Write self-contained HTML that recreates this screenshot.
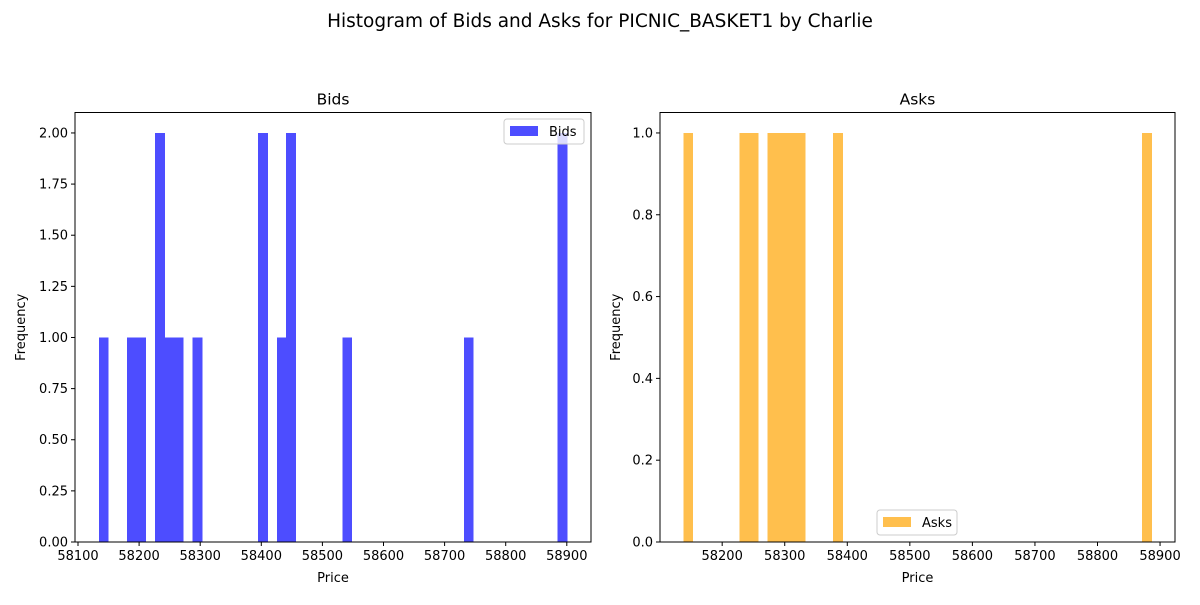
<!DOCTYPE html>
<html><head><meta charset="utf-8"><style>
body{margin:0;background:#fff;font-family:"Liberation Sans","DejaVu Sans",sans-serif;}
svg text{font-family:"DejaVu Sans","Liberation Sans",sans-serif;}
</style></head><body>
<svg id="fig" width="1200" height="600" xmlns="http://www.w3.org/2000/svg">
<rect width="1200" height="600" fill="#fff"/>
<text x="600" y="27" font-size="18.5" text-anchor="middle">Histogram of Bids and Asks for PICNIC_BASKET1 by Charlie</text>
<g id="left"></g>
<g id="right"></g>
</svg>
<script>
// Bids histogram: 50 bins
const bidsBinStart = 58134.4;
const bidsBinWidth = 15.32;
const bidsCounts = [1,0,0,1,1,0,2,1,1,0,1,0,0,0,0,0,0,2,0,1,2,0,0,0,0,0,1,0,0,0,0,0,0,0,0,0,0,0,0,1,0,0,0,0,0,0,0,0,0,2];
const bidsYTicks = [0,0.25,0.5,0.75,1.0,1.25,1.5,1.75,2.0];
const bidsXTicks = [58100,58200,58300,58400,58500,58600,58700,58800,58900];
// Asks histogram: 50 bins
const asksBinStart = 58138;
const asksBinWidth = 14.97;
const asksCounts = [1,0,0,0,0,0,1,1,0,1,1,1,1,0,0,0,1,0,0,0,0,0,0,0,0,0,0,0,0,0,0,0,0,0,0,0,0,0,0,0,0,0,0,0,0,0,0,0,0,1];
const asksYTicks = [0,0.2,0.4,0.6,0.8,1.0];
const asksXTicks = [58200,58300,58400,58500,58600,58700,58800,58900];

const NS="http://www.w3.org/2000/svg";
function mk(parent,tag,attrs,txt){const e=document.createElementNS(NS,tag);for(const k in attrs)e.setAttribute(k,attrs[k]);if(txt!==undefined)e.textContent=txt;parent.appendChild(e);return e;}

function panel(g,cfg){
  const {L,R,T,B,xmin,xmax,ymax,binStart,binWidth,counts,xticks,yticks,ydec,color,title,legend,lx,ly}=cfg;
  const sx=v=>L+(v-xmin)/(xmax-xmin)*(R-L);
  const sy=v=>B-v/ymax*(B-T);
  counts.forEach((c,i)=>{
    if(c<=0)return;
    const x0=sx(binStart+i*binWidth),x1=sx(binStart+(i+1)*binWidth);
    const r=mk(g,'rect',{x:x0,y:sy(c),width:x1-x0+0.3,height:B-sy(c),fill:color,'shape-rendering':'crispEdges'});
    
    
  });
  const fr=mk(g,'rect',{x:L,y:T,width:R-L,height:B-T,fill:'none',stroke:'#000','stroke-width':1});
  
  
  xticks.forEach(v=>{
    const x=sx(v);
    mk(g,'line',{x1:x,x2:x,y1:B,y2:B+4,stroke:'#000'});
    const t=mk(g,'text',{x:x,y:B+18,'font-size':13,'text-anchor':'middle'},String(v));
    
    
  });
  yticks.forEach(v=>{
    const y=sy(v);
    mk(g,'line',{x1:L-4,x2:L,y1:y,y2:y,stroke:'#000'});
    const t=mk(g,'text',{x:L-7,y:y+4.5,'font-size':13,'text-anchor':'end'},v.toFixed(ydec));
    
    
  });
  const tt=mk(g,'text',{x:(L+R)/2,y:T-8,'font-size':15.5,'text-anchor':'middle'},title);
  
  
  const xl=mk(g,'text',{x:(L+R)/2,y:582,'font-size':13,'text-anchor':'middle'},'Price');
  
  
  const yx=cfg.ylabX, yy=(T+B)/2;
  const yl=mk(g,'text',{x:yx,y:yy,'font-size':13,'text-anchor':'middle',transform:`rotate(-90 ${yx} ${yy})`},'Frequency');
  
  
  const lg=mk(g,'g',{});
  
  
  mk(lg,'rect',{x:lx,y:ly,width:80,height:25,rx:3,fill:'#fff',stroke:'#ccc','fill-opacity':0.8});
  mk(lg,'rect',{x:lx+6,y:ly+7,width:28,height:10,fill:color});
  mk(lg,'text',{x:lx+45,y:ly+17,'font-size':13},legend);
}
panel(document.getElementById('left'),{L:75,R:591,T:112.5,B:542,xmin:58100-3/0.611,xmax:58100+(591-78)/0.611,ymax:2.1,
  binStart:bidsBinStart,binWidth:bidsBinWidth,counts:bidsCounts,xticks:bidsXTicks,yticks:bidsYTicks,ydec:2,color:'#4d4dff',title:'Bids',legend:'Bids',lx:504,ly:119,ylabX:25});
panel(document.getElementById('right'),{L:660,R:1175,T:112.5,B:542,xmin:58100.6,xmax:58923.9,ymax:1.05,
  binStart:asksBinStart,binWidth:asksBinWidth,counts:asksCounts,xticks:asksXTicks,yticks:asksYTicks,ydec:1,color:'#ffbf4d',title:'Asks',legend:'Asks',lx:877,ly:510,ylabX:620});
</script>
</body></html>
